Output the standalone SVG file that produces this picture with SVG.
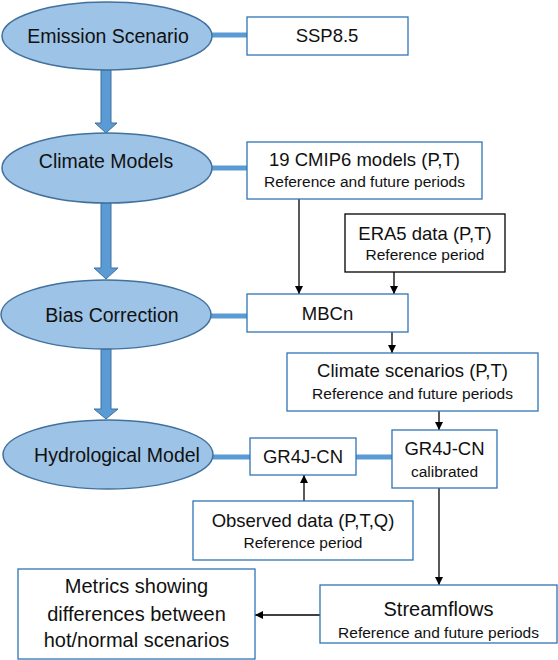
<svg xmlns="http://www.w3.org/2000/svg" width="558" height="660" viewBox="0 0 558 660">
<defs>
<style>
.ell{fill:#9DC3E6;stroke:#41719C;stroke-width:1.5}
.box{fill:#fff;stroke:#2E75B6;stroke-width:1.3}
.boxk{fill:#fff;stroke:#000;stroke-width:1.3}
.t{font-family:"Liberation Sans",Arial,sans-serif;fill:#111;text-anchor:middle}
.el{font-size:19.5px}
.m{font-size:18.5px}
.s{font-size:15.5px}
.b{font-size:20px}
.thick{stroke:#5B9BD5;stroke-width:5;fill:none}
.thin{stroke:#000;stroke-width:1.3;fill:none}
.blk{fill:#5B9BD5;stroke:#41719C;stroke-width:1}
</style>
<marker id="ah" viewBox="0 0 10 10" refX="10" refY="5" markerWidth="8" markerHeight="8" markerUnits="userSpaceOnUse" orient="auto">
<path d="M0,0 L10,5 L0,10 z" fill="#000"/>
</marker>
</defs>
<g id="connectors">
<line class="thick" x1="212" y1="35" x2="247" y2="35"/>
<line class="thick" x1="212" y1="168" x2="247" y2="168"/>
<line class="thick" x1="210" y1="316" x2="247" y2="316"/>
<line class="thick" x1="212" y1="457" x2="250" y2="457"/>
<line class="thick" x1="356" y1="457" x2="392" y2="457"/>
<path class="blk" d="M101,70 L111,70 L111,123 L117,123 L106,133 L95,123 L101,123 Z"/>
<path class="blk" d="M101,203 L111,203 L111,268 L118,268 L106,279 L94,268 L101,268 Z"/>
<path class="blk" d="M101,349 L111,349 L111,409 L118,409 L106,419 L94,409 L101,409 Z"/>
<line class="thin" x1="299" y1="199" x2="299" y2="294" marker-end="url(#ah)"/>
<line class="thin" x1="394" y1="272" x2="394" y2="294" marker-end="url(#ah)"/>
<line class="thin" x1="392" y1="332" x2="392" y2="353" marker-end="url(#ah)"/>
<line class="thin" x1="439" y1="411" x2="439" y2="430" marker-end="url(#ah)"/>
<line class="thin" x1="304" y1="501" x2="304" y2="475" marker-end="url(#ah)"/>
<line class="thin" x1="439" y1="488" x2="439" y2="585" marker-end="url(#ah)"/>
<line class="thin" x1="320" y1="615" x2="255" y2="615" marker-end="url(#ah)"/>
</g>
<g id="emission">
<ellipse class="ell" cx="107" cy="36" rx="105" ry="34"/>
<text class="t el" x="108" y="43">Emission Scenario</text>
</g>
<g id="climate-models">
<ellipse class="ell" cx="107" cy="168" rx="105" ry="35"/>
<text class="t el" x="106" y="168">Climate Models</text>
</g>
<g id="bias-correction">
<ellipse class="ell" cx="106" cy="314.5" rx="105" ry="34.5"/>
<text class="t el" x="112" y="322">Bias Correction</text>
</g>
<g id="hydrological-model">
<ellipse class="ell" cx="108" cy="454.5" rx="105" ry="34.5"/>
<text class="t el" x="117" y="462">Hydrological Model</text>
</g>
<g id="ssp">
<rect class="box" x="247" y="17" width="161" height="38"/>
<text class="t m" x="327" y="42">SSP8.5</text>
</g>
<g id="cmip6">
<rect class="box" x="247" y="142" width="235" height="57"/>
<text class="t m" x="364.5" y="166">19 CMIP6 models (P,T)</text>
<text class="t s" x="364.5" y="187">Reference and future periods</text>
</g>
<g id="era5">
<rect class="boxk" x="345" y="214" width="160" height="58"/>
<text class="t m" x="425" y="240">ERA5 data (P,T)</text>
<text class="t s" x="425" y="260">Reference period</text>
</g>
<g id="mbcn">
<rect class="box" x="247" y="294" width="161" height="38"/>
<text class="t m" x="327.5" y="320">MBCn</text>
</g>
<g id="climate-scenarios">
<rect class="box" x="287" y="353" width="251" height="58"/>
<text class="t m" x="412.5" y="377">Climate scenarios (P,T)</text>
<text class="t s" x="412.5" y="399">Reference and future periods</text>
</g>
<g id="gr4j">
<rect class="box" x="250" y="438" width="106" height="37"/>
<text class="t m" x="303" y="463">GR4J-CN</text>
</g>
<g id="gr4j-calibrated">
<rect class="box" x="392" y="430" width="105" height="58"/>
<text class="t m" x="444.5" y="455">GR4J-CN</text>
<text class="t s" x="444.5" y="477">calibrated</text>
</g>
<g id="observed">
<rect class="box" x="193" y="501" width="220" height="59"/>
<text class="t m" x="303" y="527">Observed data (P,T,Q)</text>
<text class="t s" x="303" y="548">Reference period</text>
</g>
<g id="streamflows">
<rect class="box" x="320" y="585" width="237" height="58"/>
<text class="t b" x="438.5" y="616">Streamflows</text>
<text class="t s" x="438.5" y="638">Reference and future periods</text>
</g>
<g id="metrics">
<rect class="box" x="18" y="569" width="237" height="90"/>
<text class="t b" x="136.5" y="593">Metrics showing</text>
<text class="t b" x="136.5" y="621">differences between</text>
<text class="t b" x="136.5" y="647">hot/normal scenarios</text>
</g>
</svg>
